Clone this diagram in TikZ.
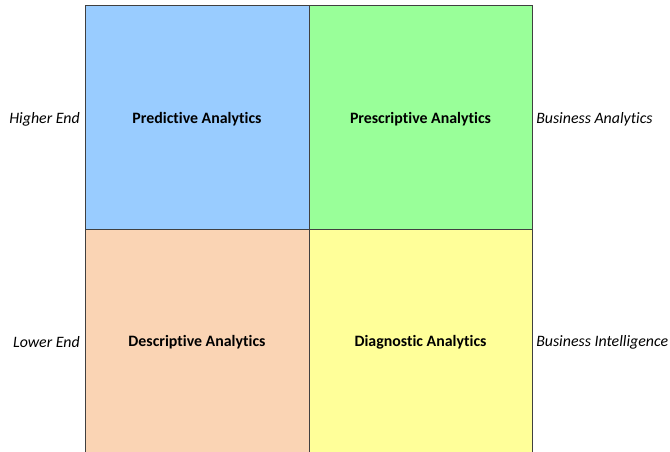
\documentclass[tikz,border=0pt]{standalone}
\usepackage{fontspec}
\setmainfont{Carlito}[Ligatures=NoCommon]
\definecolor{cblue}{RGB}{153,204,255}
\definecolor{cgreen}{RGB}{153,255,153}
\definecolor{cpeach}{RGB}{250,212,180}
\definecolor{cyellow}{RGB}{255,255,153}
\definecolor{cline}{RGB}{64,64,64}
\begin{document}
\begin{tikzpicture}[x=0.75pt,y=-0.75pt,
  cell/.style={draw=cline,line width=0.75pt},
  celltext/.style={font=\fontsize{11.9}{14}\selectfont\bfseries,anchor=center,inner sep=0pt},
  side/.style={font=\fontsize{11.9}{14}\selectfont\itshape,inner sep=0pt}]
\useasboundingbox (0,0) rectangle (670,452);
\fill[white] (0,0) rectangle (670,452);
\path[cell,fill=cblue] (85,6) rectangle (309,229);
\path[cell,fill=cgreen] (309,6) rectangle (532,229);
\path[cell,fill=cpeach] (85,229) rectangle (309,470);
\path[cell,fill=cyellow] (309,229) rectangle (532,470);
\node[celltext] (pred) at (197,119.5) {Predictive Analytics};
\node[celltext] (presc) at (420.5,119.5) {Prescriptive Analytics};
\node[celltext] (desc) at (197,342.5) {Descriptive Analytics};
\node[celltext] (diag) at (420.5,342.5) {Diagnostic Analytics};
\node[side,anchor=east] (hi) at (80,119.5) {Higher End};
\node[side,anchor=east] (lo) at (80,342.5) {Lower End};
\node[side,anchor=west] (ba) at (536,119.5) {Business Analytics};
\node[side,anchor=west] (bi) at (536,342.5) {Business Intelligence};
\end{tikzpicture}
\end{document}
